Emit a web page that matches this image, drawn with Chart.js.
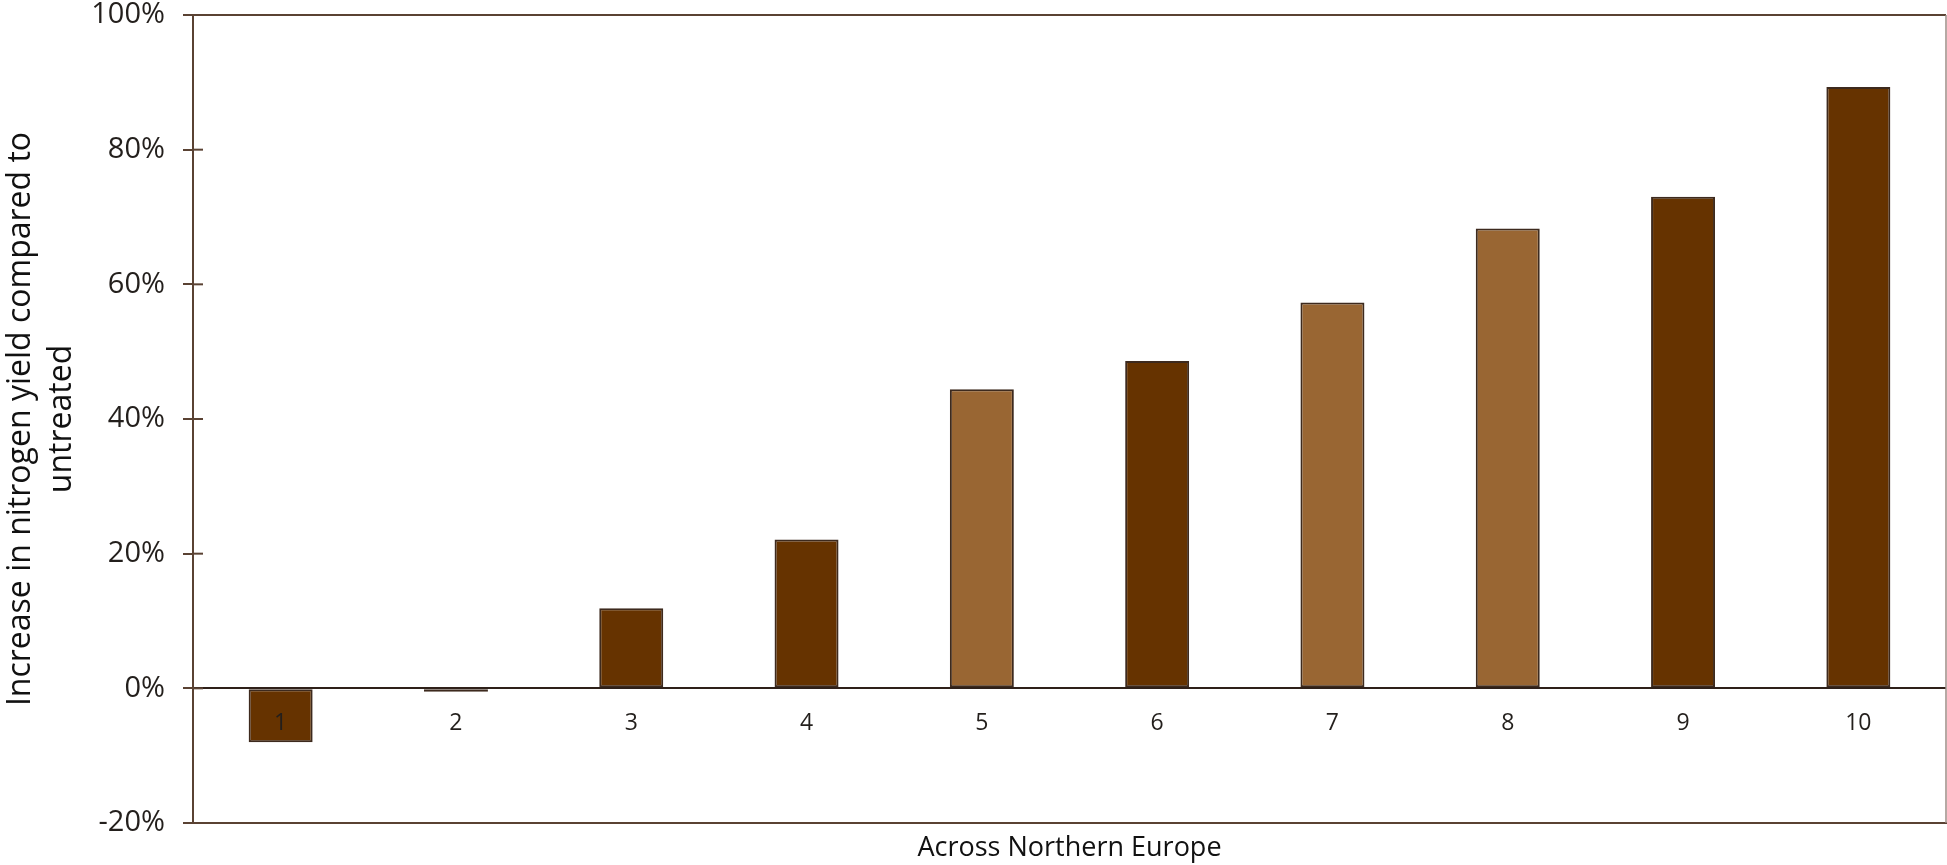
<!DOCTYPE html>
<html>
<head>
<meta charset="utf-8">
<title>Nitrogen yield increase</title>
<script src="https://cdn.jsdelivr.net/npm/chart.js@4/dist/chart.umd.min.js"></script>
<style>
  html, body { margin: 0; padding: 0; background: #ffffff; }
  #wrap { width: 1947px; height: 865px; }
</style>
</head>
<body>
<div id="wrap"><canvas id="chart" width="1947" height="865"></canvas></div>
<script>
// Trial sites across Northern Europe
const categories = ['1', '2', '3', '4', '5', '6', '7', '8', '9', '10'];
// Increase in nitrogen yield compared to untreated (%)
const increasePct = [-8.0, -0.5, 11.9, 22.1, 44.4, 48.6, 57.3, 68.3, 73.0, 89.3];
// Shade group for each site: 0 = dark, 1 = light
const shadeGroup = [0, 0, 0, 0, 1, 0, 1, 1, 0, 0];
const yTickValues = [-20, 0, 20, 40, 60, 80, 100];

const DARK = '#663300';
const LIGHT = '#996633';
const AXIS = '#5a4233';
const ZERO = '#2e2019';
const TEXT = '#231f1c';
const FONT = "'Open Sans', 'DejaVu Sans', sans-serif";

// Labels for the sites sit just below the zero line
const siteLabels = {
  id: 'siteLabels',
  afterDatasetsDraw(chart) {
    const { ctx, scales: { x, y } } = chart;
    const base = y.getPixelForValue(0);
    ctx.save();
    ctx.font = '23px ' + FONT;
    ctx.fillStyle = TEXT;
    ctx.textAlign = 'center';
    ctx.textBaseline = 'middle';
    categories.forEach((c, i) => {
      ctx.fillText(c, x.getPixelForValue(i), base + 35);
    });
    ctx.restore();
  }
};

// Right edge of the plot frame and tick marks crossing the value axis
const frame = {
  id: 'frame',
  beforeDatasetsDraw(chart) {
    const { ctx, chartArea: a, scales: { y } } = chart;
    ctx.save();
    ctx.strokeStyle = '#9c8c86';
    ctx.lineWidth = 1.5;
    ctx.beginPath();
    ctx.moveTo(a.right, a.top);
    ctx.lineTo(a.right, a.bottom);
    ctx.stroke();
    ctx.strokeStyle = AXIS;
    ctx.lineWidth = 2;
    y.ticks.forEach(t => {
      const py = y.getPixelForValue(t.value);
      ctx.beginPath();
      ctx.moveTo(a.left, py);
      ctx.lineTo(a.left + 10, py);
      ctx.stroke();
    });
    ctx.restore();
  }
};

new Chart(document.getElementById('chart'), {
  type: 'bar',
  data: {
    labels: categories,
    datasets: [{
      data: increasePct,
      backgroundColor: shadeGroup.map(g => g ? LIGHT : DARK),
      borderColor: '#3d2a1e',
      borderWidth: 2,
      borderSkipped: false,
      categoryPercentage: 1.0,
      barPercentage: 0.365
    }]
  },
  options: {
    responsive: false,
    animation: false,
    devicePixelRatio: 1,
    layout: { padding: { top: 15, right: 1, left: 0, bottom: 0 } },
    plugins: {
      legend: { display: false },
      tooltip: { enabled: false }
    },
    scales: {
      x: {
        grid: { display: false },
        border: { display: true, color: AXIS, width: 2 },
        ticks: { display: false },
        title: {
          display: true,
          text: 'Across Northern Europe',
          color: '#111111',
          font: { family: FONT, size: 27, lineHeight: 1.2 },
          padding: { top: 0, bottom: 0 }
        },
        afterFit(scale) { scale.height = 42; }
      },
      y: {
        min: -20,
        max: 100,
        afterBuildTicks(scale) { scale.ticks = yTickValues.map(v => ({ value: v })); },
        ticks: {
          callback: v => v + '%',
          color: TEXT,
          font: { family: FONT, size: 29 },
          padding: 18
        },
        grid: {
          drawOnChartArea: true,
          drawTicks: true,
          tickLength: 10,
          tickColor: AXIS,
          tickWidth: 2,
          lineWidth: 2,
          color: ctx => {
            const v = ctx.tick && ctx.tick.value;
            if (v === 0) return ZERO;
            if (v === 100) return AXIS;
            return 'rgba(0,0,0,0)';
          }
        },
        border: { display: true, color: AXIS, width: 2 },
        title: {
          display: true,
          text: ['Increase in nitrogen yield compared to', 'untreated'],
          color: '#111111',
          font: { family: FONT, size: 32, lineHeight: 1.28 },
          padding: { top: 0, bottom: 0 }
        },
        afterFit(scale) {
          scale.width = 193;
          scale.paddingTop = 0;
          scale.paddingBottom = 0;
        }
      }
    }
  },
  plugins: [frame, siteLabels]
});
</script>
</body>
</html>
